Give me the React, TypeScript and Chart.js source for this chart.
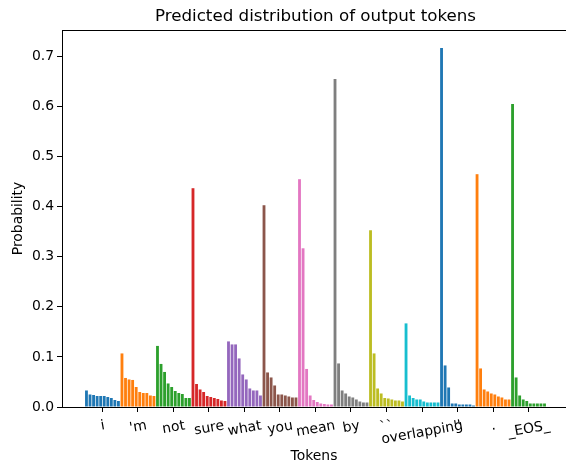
import React, { useEffect, useRef } from 'react';
import { Chart, registerables } from 'chart.js';

Chart.register(...registerables);

const TOKENS = ['i', "'m", 'not', 'sure', 'what', 'you', 'mean', 'by', '``', 'overlapping', "''", '.', '_EOS_'];

const P_I = [0.033, 0.025, 0.024, 0.022, 0.022, 0.022, 0.020, 0.018, 0.014, 0.012];
const P_M = [0.107, 0.058, 0.055, 0.054, 0.040, 0.030, 0.028, 0.028, 0.023, 0.022];
const P_NOT = [0.122, 0.086, 0.070, 0.047, 0.040, 0.032, 0.028, 0.026, 0.018, 0.018];
const P_SURE = [0.437, 0.046, 0.035, 0.030, 0.022, 0.020, 0.018, 0.016, 0.013, 0.012];
const P_WHAT = [0.131, 0.125, 0.125, 0.097, 0.065, 0.055, 0.037, 0.033, 0.033, 0.023];
const P_YOU = [0.403, 0.069, 0.059, 0.043, 0.025, 0.025, 0.023, 0.021, 0.019, 0.019];
const P_MEAN = [0.455, 0.317, 0.076, 0.023, 0.014, 0.010, 0.007, 0.006, 0.005, 0.005];
const P_BY = [0.655, 0.087, 0.033, 0.027, 0.021, 0.019, 0.015, 0.011, 0.009, 0.009];
const P_QOPEN = [0.353, 0.107, 0.037, 0.027, 0.018, 0.017, 0.015, 0.013, 0.013, 0.011];
const P_OVERLAPPING = [0.167, 0.023, 0.018, 0.015, 0.015, 0.011, 0.009, 0.009, 0.009, 0.009];
const P_QCLOSE = [0.717, 0.083, 0.039, 0.007, 0.007, 0.005, 0.005, 0.005, 0.005, 0.003];
const P_DOT = [0.465, 0.077, 0.035, 0.031, 0.027, 0.025, 0.021, 0.019, 0.015, 0.015];
const P_EOS = [0.605, 0.059, 0.023, 0.015, 0.012, 0.007, 0.007, 0.007, 0.007, 0.007];

const GROUPS = [P_I, P_M, P_NOT, P_SURE, P_WHAT, P_YOU, P_MEAN, P_BY, P_QOPEN, P_OVERLAPPING, P_QCLOSE, P_DOT, P_EOS];

const Y_TICKS = [0, 0.1, 0.2, 0.3, 0.4, 0.5, 0.6, 0.7];

const TAB10 = ['#1f77b4', '#ff7f0e', '#2ca02c', '#d62728', '#9467bd', '#8c564b', '#e377c2', '#7f7f7f', '#bcbd22', '#17becf'];

const FONT = '"DejaVu Sans", sans-serif';
const TITLE = 'Predicted distribution of output tokens';

export default function App() {
  const ref = useRef<HTMLCanvasElement | null>(null);

  useEffect(() => {
    if (!ref.current) return;
    const points: { x: number; y: number }[] = [];
    const colors: string[] = [];
    let idx = 0;
    GROUPS.forEach((g, gi) => {
      g.forEach((v) => {
        points.push({ x: idx, y: v });
        colors.push(TAB10[gi % 10]);
        idx++;
      });
    });
    const groupCenters = GROUPS.map((g, gi) => gi * g.length + (g.length - 1) / 2);
    const xMinFull = -6.89;
    const xMaxFull = 135.89;

    const deco = {
      id: 'deco',
      afterDraw(chart: any) {
        const { ctx, chartArea } = chart;
        const xs = chart.scales.x;
        const rightFull = xs.getPixelForValue(xMaxFull);
        ctx.save();
        // top spine
        ctx.strokeStyle = '#000';
        ctx.lineWidth = 1;
        ctx.beginPath();
        ctx.moveTo(chartArea.left, Math.round(chartArea.top) + 0.5);
        ctx.lineTo(chart.width, Math.round(chartArea.top) + 0.5);
        ctx.stroke();
        // title
        ctx.fillStyle = '#000';
        ctx.font = `16.7px ${FONT}`;
        ctx.textAlign = 'center';
        ctx.textBaseline = 'alphabetic';
        ctx.fillText(TITLE, (chartArea.left + rightFull) / 2, 20.5);
        // x tick labels
        const fs = 13.9;
        ctx.font = `${fs}px ${FONT}`;
        const th = (10 * Math.PI) / 180;
        const top = chartArea.bottom + 9.5;
        TOKENS.forEach((t, i) => {
          const cx = xs.getPixelForValue(groupCenters[i]);
          const w = ctx.measureText(t).width;
          const h = fs * 1.164;
          const bh = w * Math.sin(th) + h * Math.cos(th);
          const cy = top + bh / 2;
          ctx.save();
          ctx.translate(cx, cy);
          ctx.rotate(-th);
          ctx.textAlign = 'center';
          ctx.textBaseline = 'alphabetic';
          ctx.fillText(t, 0, 0.346 * fs);
          ctx.restore();
        });
        ctx.restore();
      },
    };

    const chart = new Chart(ref.current, {
      type: 'bar',
      data: {
        datasets: [
          {
            data: points,
            backgroundColor: colors,
            borderWidth: 0,
            barPercentage: 0.8,
            categoryPercentage: 1.0,
          } as any,
        ],
      },
      options: {
        animation: false,
        responsive: false,
        devicePixelRatio: 1,
        events: [],
        layout: { padding: { top: 30, left: 0, right: 0, bottom: 0 } },
        plugins: { legend: { display: false }, tooltip: { enabled: false }, title: { display: false } },
        scales: {
          x: {
            type: 'linear',
            min: xMinFull,
            max: 135.05,
            offset: false,
            afterBuildTicks: (s: any) => {
              s.ticks = groupCenters.map((v) => ({ value: v }));
            },
            afterFit: (s: any) => {
              s.height = 56;
            },
            ticks: { display: false },
            grid: { offset: false, drawOnChartArea: false, drawTicks: true, tickLength: 5, color: '#000', lineWidth: 1 },
            border: { display: true, color: '#000', width: 1 },
            title: {
              display: true,
              text: 'Tokens',
              color: '#000',
              font: { family: FONT, size: 13.9, lineHeight: 1.0 },
              padding: { top: 0, bottom: 0 },
            },
          } as any,
          y: {
            min: 0,
            max: 0.753,
            afterBuildTicks: (s: any) => {
              s.ticks = Y_TICKS.map((v) => ({ value: v }));
            },
            afterFit: (s: any) => {
              s.width = 62;
            },
            ticks: {
              color: '#000',
              padding: 3,
              font: { family: FONT, size: 13.9 },
              callback: (v: any) => Number(v).toFixed(1),
            },
            grid: { drawOnChartArea: false, drawTicks: true, tickLength: 5, color: '#000', lineWidth: 1 },
            border: { display: true, color: '#000', width: 1 },
            title: {
              display: true,
              text: 'Probability',
              color: '#000',
              font: { family: FONT, size: 13.9 },
              padding: { top: 10, bottom: 0 },
            },
          } as any,
        },
      },
      plugins: [deco],
    });
    return () => chart.destroy();
  }, []);

  return (
    <div style={{ position: 'absolute', left: 0, top: 0, width: 566, height: 463 }}>
      <canvas ref={ref} width={566} height={463} style={{ display: 'block' }} />
    </div>
  );
}
